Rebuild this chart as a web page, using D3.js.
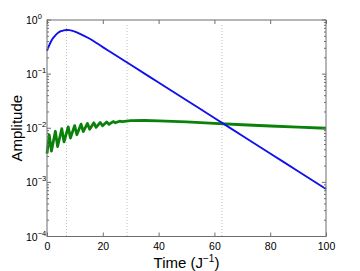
<!DOCTYPE html>
<html lang="en">
  <head>
    <meta charset="utf-8">
    <script src="https://cdn.jsdelivr.net/npm/d3@7"></script>
    <style>
      body { margin:0; background:#fff; }
      svg { display:block; font-family:"Liberation Sans", Arial, sans-serif; }
    </style>
  </head>
  <body>
    <svg id="chart"></svg>
  </body>
  <script>

    var width = 360;
    var height = 271;

    // blue curve (time, amplitude)
    var blueT = [0, 1, 2, 3, 4, 5, 6, 7, 8, 10, 12, 15, 20, 30, 40, 50, 60, 70, 80, 90, 100];
    var blueA = [0.27, 0.36, 0.45, 0.52, 0.58, 0.62, 0.645, 0.655, 0.65, 0.61, 0.55, 0.46,
                 0.316, 0.149, 0.070, 0.0329, 0.0155, 0.00726, 0.00341, 0.00161, 0.000755];

    // green curve, oscillating at early times
    var greenT = [0, 0.8, 1.6, 3.0, 3.8, 5.3, 6.1, 7.6, 8.4, 9.9, 10.7, 12.2, 13.0, 14.5, 15.3,
                  16.8, 17.6, 19.1, 19.9, 21.4, 22.2, 23.7, 24.5, 26, 27, 30, 35, 40, 50, 60, 70, 80, 90, 100];
    var greenA = [0.0034, 0.0075, 0.0038, 0.0088, 0.0046, 0.0098, 0.0056, 0.0106, 0.0066, 0.0112,
                  0.0076, 0.0119, 0.0087, 0.0123, 0.0096, 0.0126, 0.0104, 0.0128, 0.0111, 0.0131,
                  0.0118, 0.0133, 0.0126, 0.0135, 0.0132, 0.0138, 0.0139, 0.0137, 0.0131, 0.0123,
                  0.0116, 0.0110, 0.0105, 0.0100];

    var markTimes = [7, 28.7, 62.7];
    var xTicks = [0, 20, 40, 60, 80, 100];
    var yExps = [0, -1, -2, -3, -4];

    // plot box (note: "top" is reserved on window, so use pl/pr/pt/pb)
    var pl = 47, pr = 326, pt = 20, pb = 236.5;

    var svg = d3.select('#chart').attr('width', width).attr('height', height);

    var x = d3.scaleLinear().domain([0, 100]).range([pl, pr]);
    var y = d3.scaleLog().domain([1e-4, 1]).range([pb, pt]);

    // dotted markers
    svg.selectAll('line.mark').data(markTimes).enter()
      .append('line')
      .attr('class', 'mark')
      .attr('x1', function(d){ return x(d); })
      .attr('x2', function(d){ return x(d); })
      .attr('y1', pt + 5)
      .attr('y2', pb)
      .attr('stroke', '#b0b0b0')
      .attr('stroke-width', 0.8)
      .attr('stroke-dasharray', '1,2');

    var line = d3.line()
      .x(function(d){ return x(d[0]); })
      .y(function(d){ return y(d[1]); });

    var greenData = greenT.map(function(t, i){ return [t, greenA[i]]; });
    var blueData = blueT.map(function(t, i){ return [t, blueA[i]]; });

    svg.append('path').datum(greenData)
      .attr('d', line)
      .attr('fill', 'none')
      .attr('stroke', '#0a820a')
      .attr('stroke-width', 2.8)
      .attr('stroke-linejoin', 'round');

    svg.append('path').datum(blueData)
      .attr('d', d3.line().curve(d3.curveMonotoneX)
        .x(function(d){ return x(d[0]); })
        .y(function(d){ return y(d[1]); }))
      .attr('fill', 'none')
      .attr('stroke', '#1010ee')
      .attr('stroke-width', 1.9);

    // frame
    var axisCol = '#6e6e6e';
    svg.append('rect')
      .attr('x', pl).attr('y', pt)
      .attr('width', pr - pl).attr('height', pb - pt)
      .attr('fill', 'none').attr('stroke', axisCol).attr('stroke-width', 1);

    // x ticks, bottom and top, pointing inward
    svg.append('g').attr('transform', 'translate(0,' + pb + ')')
      .call(d3.axisBottom(x).tickValues(xTicks).tickSizeInner(-4).tickSizeOuter(0).tickPadding(6))
      .call(function(g){
        g.select('.domain').remove();
        g.selectAll('line').attr('stroke', axisCol);
        g.selectAll('text').attr('font-size', 10.5).attr('fill', '#000')
          .attr('font-family', '"Liberation Sans", Arial, sans-serif');
      });
    svg.append('g').attr('transform', 'translate(0,' + pt + ')')
      .call(d3.axisTop(x).tickValues(xTicks).tickSizeInner(-4).tickSizeOuter(0).tickFormat(''))
      .call(function(g){
        g.select('.domain').remove();
        g.selectAll('line').attr('stroke', axisCol);
      });

    // y ticks, major and minor, both sides
    var minor = [];
    yExps.slice(1).forEach(function(e){
      for (var k = 2; k <= 9; k++) minor.push(k * Math.pow(10, e));
    });
    [pl, pr].forEach(function(px){
      var dir = px === pl ? 1 : -1;
      svg.selectAll(null).data(yExps).enter().append('line')
        .attr('x1', px).attr('x2', px + dir * 4)
        .attr('y1', function(d){ return y(Math.pow(10, d)); })
        .attr('y2', function(d){ return y(Math.pow(10, d)); })
        .attr('stroke', axisCol);
      svg.selectAll(null).data(minor).enter().append('line')
        .attr('x1', px).attr('x2', px + dir * 2)
        .attr('y1', function(d){ return y(d); })
        .attr('y2', function(d){ return y(d); })
        .attr('stroke', axisCol);
    });

    // y tick labels: 10 with superscript exponent
    var ylab = svg.selectAll('text.ylab').data(yExps).enter()
      .append('text')
      .attr('class', 'ylab')
      .attr('x', 26)
      .attr('y', function(d){ return y(Math.pow(10, d)) + 4; })
      .attr('font-size', 10.5)
      .attr('text-anchor', 'start');
    ylab.append('tspan').text('10');
    ylab.append('tspan')
      .attr('dy', -5)
      .attr('font-size', 7.5)
      .text(function(d){ return d === 0 ? '0' : '\u2212' + (-d); });

    // axis titles
    svg.append('text')
      .attr('transform', 'translate(22,' + ((pt + pb) / 2) + ') rotate(-90)')
      .attr('text-anchor', 'middle')
      .attr('font-size', 15)
      .text('Amplitude');

    var xt = svg.append('text')
      .attr('x', (pl + pr) / 2)
      .attr('y', 268)
      .attr('text-anchor', 'middle')
      .attr('font-size', 15);
    xt.append('tspan').text('Time (J');
    xt.append('tspan').attr('dy', -6).attr('font-size', 10).text('\u22121');
    xt.append('tspan').attr('dy', 6).text(')');

  </script>
</html>
